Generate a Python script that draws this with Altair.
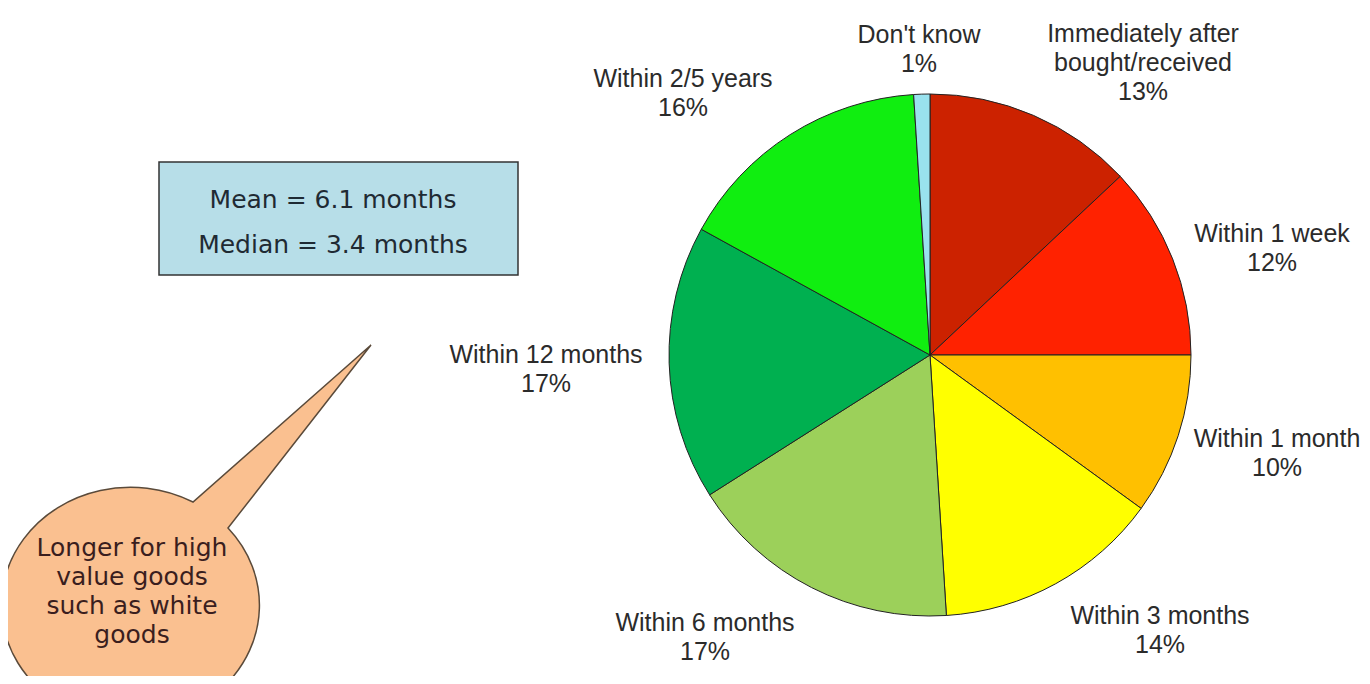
import altair as alt
import pandas as pd

# ---- data ----
categories = ["Immediately after bought/received", "Within 1 week", "Within 1 month",
              "Within 3 months", "Within 6 months", "Within 12 months",
              "Within 2/5 years", "Don't know"]
percent = [13, 12, 10, 14, 17, 17, 16, 1]
colors = ["#CC2200", "#FF2200", "#FFC000", "#FFFF00", "#9CD05A", "#00B050", "#10EE10", "#99E2EE"]

stats_lines = ["Mean = 6.1 months", "Median = 3.4 months"]
bubble_text = "Longer for high\nvalue goods\nsuch as white\ngoods"

# ---- layout (page pixels, first-line baselines) ----
OFF = 8
W, H = 1354, 668
label_x = [1143, 1272, 1277, 1160, 705, 546, 683, 919]
label_y = [42, 242, 447, 624, 631, 363, 87, 43]
pie_cx, pie_cy, pie_r = 930 - OFF, 355 - OFF, 261

wrap = {"Immediately after bought/received": "Immediately after\nbought/received"}

pie_df = pd.DataFrame({"category": categories, "pct": percent, "idx": list(range(len(categories)))})
lab_df = pd.DataFrame({
    "x": [v - OFF for v in label_x],
    "y": [v - OFF for v in label_y],
    "text": [wrap.get(c, c) + "\n" + f"{p}%" for c, p in zip(categories, percent)],
})

pie = alt.Chart(pie_df).mark_arc(outerRadius=pie_r, stroke="#222222", strokeWidth=1).encode(
    theta=alt.Theta("pct:Q", stack=True),
    color=alt.Color("category:N", scale=alt.Scale(domain=categories, range=colors), legend=None),
    order=alt.Order("idx:Q"),
    x=alt.value(pie_cx),
    y=alt.value(pie_cy),
)

labels = alt.Chart(lab_df).mark_text(
    font="Liberation Sans", fontSize=25, lineHeight=29, align="center",
    baseline="alphabetic", color="#2b2b2b", lineBreak="\n"
).encode(
    x=alt.X("x:Q", scale=None),
    y=alt.Y("y:Q", scale=None),
    text="text:N",
)

one = pd.DataFrame({"a": [0]})

box = alt.Chart(one).mark_rect(fill="#B7DEE8", stroke="#333333", strokeWidth=1.5).encode(
    x=alt.value(159 - OFF), x2=alt.value(518 - OFF),
    y=alt.value(162 - OFF), y2=alt.value(275 - OFF),
)

stats_df = pd.DataFrame({"t": stats_lines, "x": [333 - OFF, 333 - OFF], "y": [208 - OFF, 253 - OFF]})
stats = alt.Chart(stats_df).mark_text(
    font="DejaVu Sans", fontSize=25, align="center", baseline="alphabetic", color="#1f2a33"
).encode(x=alt.X("x:Q", scale=None), y=alt.Y("y:Q", scale=None), text="t:N")

bubble_path = ("M 0.368 -0.328 L 0.94 -1.06 L 0.228 -0.432 "
               "A 0.516 0.472 0 1 0 0.368 -0.328 Z")
bubble = alt.Chart(one).mark_point(
    shape=bubble_path, size=250000, filled=True, fill="#FAC090", opacity=1,
    stroke="#5a4a3a", strokeWidth=1.5
).encode(x=alt.value(136 - OFF), y=alt.value(610 - OFF))

btext = alt.Chart(pd.DataFrame({"t": [bubble_text]})).mark_text(
    font="DejaVu Sans", fontSize=25, lineHeight=29, align="center",
    baseline="alphabetic", color="#3a1e1e", lineBreak="\n"
).encode(x=alt.value(132 - OFF), y=alt.value(556 - OFF), text="t:N")

chart = alt.layer(box, stats, bubble, btext, pie, labels).properties(
    width=W, height=H, autosize="none", padding=0
).configure_view(stroke=None)

chart.save("out.html", embed_options={"renderer": "svg", "actions": False})
